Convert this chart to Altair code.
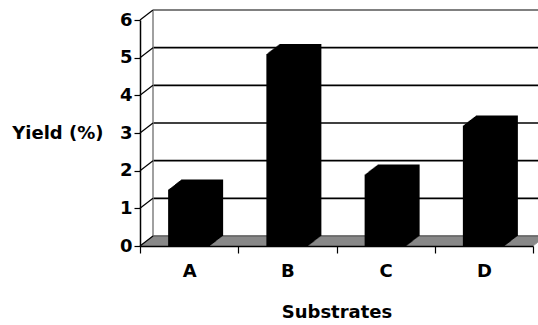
import altair as alt
import pandas as pd

categories = ["A", "B", "C", "D"]
yields = [1.5, 5.1, 1.9, 3.2]
y_ticks = [0, 1, 2, 3, 4, 5, 6]

df = pd.DataFrame({"substrate": categories, "yield": yields})
ticks_df = pd.DataFrame({"v": y_ticks})
wall_df = pd.DataFrame({"lo": [min(y_ticks)], "hi": [max(y_ticks)]})

DX, DY = 13, 10
FONT = "DejaVu Sans"
GRAY = "#808080"

yscale = alt.Scale(domain=[min(y_ticks), max(y_ticks)], nice=False, zero=True)
xscale = alt.Scale(paddingInner=0, paddingOuter=0)

XAXIS = alt.Axis(
    title="Substrates", labelAngle=0, tickBand="extent",
    domainColor="black", domainWidth=1.5, tickColor="black",
    tickSize=7, tickWidth=1.2, labelFont=FONT, labelFontWeight="bold",
    labelFontSize=18, labelColor="black", labelPadding=9,
    titleFont=FONT, titleFontWeight="bold", titleFontSize=18,
    titleColor="black", titlePadding=23, zindex=5,
)
YAXIS = alt.Axis(
    values=y_ticks, grid=False, domainColor="black", domainWidth=1.5,
    tickColor="black", tickSize=6, tickWidth=1.2, labelFont=FONT,
    labelFontWeight="bold", labelFontSize=18, labelColor="black",
    labelPadding=2, title="Yield (%)", titleAngle=0, titleFont=FONT,
    titleFontWeight="bold", titleFontSize=18, titleColor="black",
    titleAlign="right", titleBaseline="middle", titleX=-37, titleY=113,
    zindex=5,
)


def Y(field):
    return alt.Y(field, scale=yscale, axis=YAXIS)


layers = []

# back-wall gridlines
layers.append(
    alt.Chart(ticks_df).transform_filter("datum.v > 0 && datum.v < 6")
    .mark_rule(color="black", strokeWidth=1.7, xOffset=DX, x2Offset=DX, yOffset=-DY)
    .encode(y=Y("v:Q"), x=alt.value(0), x2=alt.value("width"))
)
# back-wall top border
layers.append(
    alt.Chart(ticks_df).transform_filter("datum.v == 6")
    .mark_rule(color=GRAY, strokeWidth=2, xOffset=DX, x2Offset=DX, yOffset=-DY)
    .encode(y=Y("v:Q"), x=alt.value(0), x2=alt.value("width"))
)
# back-wall left edge
layers.append(
    alt.Chart(wall_df)
    .mark_rule(color=GRAY, strokeWidth=1.5, xOffset=DX, yOffset=-DY, y2Offset=-DY)
    .encode(x=alt.value(0), y=Y("lo:Q"), y2="hi:Q")
)
# floor (gray parallelogram built from offset rules)
for j in range(DY + 1):
    off = j * DX / DY
    layers.append(
        alt.Chart(wall_df)
        .mark_rule(color=GRAY, strokeWidth=1.6, xOffset=off, x2Offset=off, yOffset=-j)
        .encode(y=Y("lo:Q"), x=alt.value(0), x2=alt.value("width"))
    )
# floor back edge
layers.append(
    alt.Chart(wall_df)
    .mark_rule(color="#505050", strokeWidth=1, xOffset=DX, x2Offset=DX, yOffset=-DY)
    .encode(y=Y("lo:Q"), x=alt.value(0), x2=alt.value("width"))
)
# diagonal tick connectors
layers.append(
    alt.Chart(ticks_df)
    .mark_rule(color="black", strokeWidth=1.2, y2Offset=-DY)
    .encode(x=alt.value(0), x2=alt.value(DX), y=Y("v:Q"), y2="v:Q")
)

# 3D bars: stacked offset copies form the extruded shape
for k in range(DX, -1, -1):
    yo = -k * DY / DX
    layers.append(
        alt.Chart(df)
        .mark_bar(color="black", size=42, xOffset=k, x2Offset=k, yOffset=yo, y2Offset=yo)
        .encode(
            x=alt.X("substrate:N", scale=xscale, sort=categories, axis=XAXIS),
            y=Y("yield:Q"),
        )
    )

chart = alt.layer(*layers).properties(
    width=393, height=226,
    autosize=alt.AutoSizeParams(type="none"),
    padding={"left": 140, "top": 20, "right": 5, "bottom": 79},
    background="white",
).configure_view(stroke=None)

chart.save("out.html", embed_options={"renderer": "svg", "actions": False})
